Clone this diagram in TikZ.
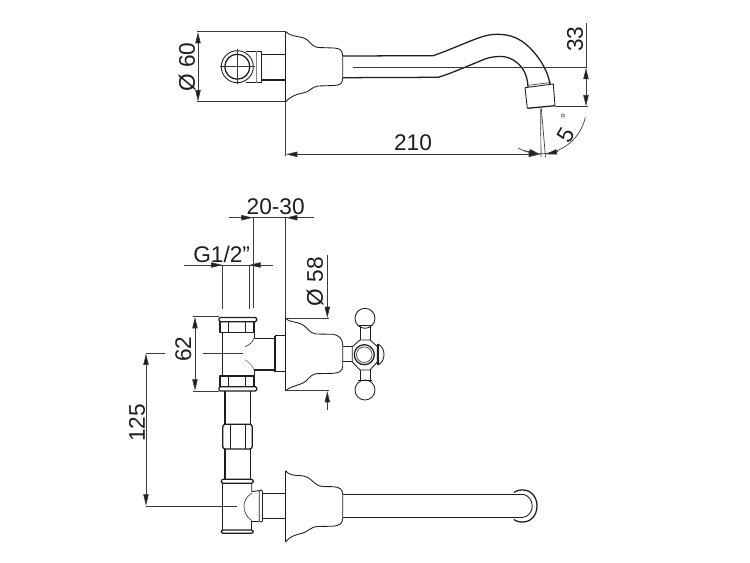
\documentclass[tikz,border=0pt]{standalone}
\usepackage{fontspec}
\setmainfont{Liberation Sans}
\usetikzlibrary{arrows.meta}
\definecolor{ink}{HTML}{1E1E1E}
\definecolor{dimc}{HTML}{3A3A3A}
\definecolor{tealg}{HTML}{6F8F86}
\tikzset{
  thick line/.style={draw=ink,line width=0.95pt,line join=round},
  med line/.style={draw=ink,line width=0.65pt,line join=round},
  thin line/.style={draw=dimc,line width=0.5pt},
  faint line/.style={draw=tealg,line width=0.55pt},
  dim arrow/.style={draw=dimc,line width=0.5pt,-{Triangle[length=8.5pt,width=4pt,fill=ink]}},
  label text/.style={font=\fontsize{17}{18}\selectfont,text=ink,inner sep=0pt},
  small text/.style={font=\fontsize{10}{10}\selectfont,text=dimc,inner sep=0pt}
}
\begin{document}
\begin{tikzpicture}[x=0.75pt,y=-0.75pt]
\useasboundingbox (0,0) rectangle (750,563);
\fill[white] (0,0) rectangle (750,563);

% ---------- top view: wall plate and spout
\draw[thin line] (196.7,31.7) -- (285.7,31.7);
\draw[thin line] (196.7,101.7) -- (285.7,101.7);
\draw[dim arrow] (198,67) -- (198,32);
\draw[dim arrow] (198,67) -- (198,101.5);
\node[label text,rotate=90] (d60) at (187,67) {Ø 60};

\draw[med line] (237.3,66.7) circle[radius=16];
\draw[thick line] (237.3,66.7) circle[radius=12.5];
\draw[thin line] (220,66.7) -- (254.5,66.7) (237.3,49.5) -- (237.3,84);
\draw[med line] (246,51) -- (262,51) (246,82.7) -- (262,82.7);
\draw[faint line] (256,51) -- (256,82.7);
\draw[med line] (261.7,51) -- (261.7,82.7);
\draw[thick line] (262,54.3) -- (285.7,54.3) (262,80) -- (285.7,80);

\draw[med line] (285.7,31.7) -- (285.7,101.7);
\draw[med line] (285.7,31.7) .. controls (290,36) and (296,36) .. (303,37.7)
  .. controls (309,39) and (310,46) .. (318,47.5) -- (334,48)
  .. controls (340,48) and (342.7,51) .. (342.7,56) -- (342.7,78)
  .. controls (342.7,83) and (340,85.5) .. (334,85.5) -- (318,86)
  .. controls (311,87) and (310,92) .. (303,93)
  .. controls (296,94) and (290,97) .. (285.7,101.7);

\draw[thick line] (343,56) -- (433,55.7)
  .. controls (447,51) and (460,45) .. (473,40)
  .. controls (483,36) and (490,34.3) .. (497,34.3)
  .. controls (510,34.3) and (520,38) .. (530,48)
  .. controls (541,59) and (548,72) .. (550,84);
\draw[thick line] (343,77.7) -- (438,77.3)
  .. controls (450,74) and (470,65) .. (485,59)
  .. controls (490,57) and (496,56.5) .. (502,56.5)
  .. controls (512,57) and (520,64) .. (524,71)
  .. controls (526,75) and (528,81) .. (528,87);
\draw[thin line] (527,85.5) -- (551,82.5);
\draw[med line] (525,87.7) -- (553.3,84) -- (555,105.7);
\draw[med line] (525,87.7) -- (527.3,108.3);
\draw[thick line] (527.3,108.3) -- (555,105.7);

\draw[thin line] (352.7,67.3) -- (587,67.3);

% 33
\draw[thin line] (586,23) -- (586,67.3);
\draw[dim arrow] (586,87) -- (586,67.8);
\draw[dim arrow] (586,87) -- (586,106.3);
\draw[thin line] (555,106.7) -- (588,106.7);
\node[label text,rotate=90] (d33) at (575,39) {33};

% 210
\draw[thin line] (285.7,101.7) -- (285.7,156);
\draw[dim arrow] (413,154.3) -- (286,154.3);
\draw[dim arrow] (413,154.3) -- (540,154.3);
\node[label text] (d210) at (413,143) {210};

% 5 degrees
\draw[thin line] (540.6,108.5) -- (541,157) (541.3,108.5) -- (545.5,157);
\draw[thin line] (518,148) arc[start angle=119,end angle=12,radius=46];
\draw[dim arrow] (524,150.5) -- (540.3,154.3);
\draw[dim arrow] (558,151.5) -- (545.7,154.3);
\node[label text,rotate=60] (d5) at (566,135) {5};
\node[small text] (ddeg) at (563,119) {°};

% ---------- dimensions above front view
\draw[thin line] (229,217.7) -- (314,217.7);
\draw[dim arrow] (240,217.7) -- (252.7,217.7);
\draw[dim arrow] (298,217.7) -- (286,217.7);
\node[label text] (d2030) at (275.7,206.5) {20-30};
\draw[thin line] (253,217.7) -- (253,308);
\draw[thin line] (285.7,217.7) -- (285.7,318);

\draw[thin line] (184,265) -- (273,265);
\draw[dim arrow] (212,265) -- (222.4,265);
\draw[dim arrow] (261.7,265) -- (249.3,265);
\node[label text] (dg) at (221.7,254.5) {G1/2"};
\draw[thin line] (222.7,265) -- (222.7,308.5);
\draw[thin line] (249,265) -- (249,308.5);

\draw[thin line] (327.3,255) -- (327.3,300);
\draw[dim arrow] (327.3,300) -- (327.3,318);
\draw[dim arrow] (327.3,410) -- (327.3,391);
\node[label text,rotate=90] (d58) at (315,281.7) {Ø 58};

\draw[thin line] (192.7,316.7) -- (219,316.7);
\draw[thin line] (192.7,391) -- (219,391);
\draw[dim arrow] (195,354) -- (195,317);
\draw[dim arrow] (195,354) -- (195,390.7);
\node[label text,rotate=90] (d62) at (183.3,349.3) {62};

\draw[thin line] (146,353.3) -- (165,353.3);
\draw[thin line] (202.7,353.3) -- (243.3,353.3);
\draw[dim arrow] (146,430) -- (146,353.6);
\draw[dim arrow] (146,430) -- (146,505.7);
\draw[thin line] (146,506) -- (236.7,506);
\node[label text,rotate=90] (d125) at (137,423) {125};

% ---------- upper tee
\draw[thick line,rounded corners=1pt] (219,317.5) rectangle (256.7,321.7);
\draw[thick line] (220,321.7) -- (220,332.7) -- (254,332.7) -- (254,321.7);
\draw[med line] (228,321.7) -- (228,332.7) (245,321.7) -- (245,332.7);
\draw[med line] (222.7,332.7) -- (222.7,376);
\draw[med line] (254,332.7) -- (254,338.3) -- (275,338.3);
\draw[thick line] (254,370) -- (275,370);
\draw[med line] (254,370) -- (254,376);
\draw[med line] (275,335.7) rectangle (285.7,371.7);
\draw[thick line] (275,335.7) -- (275,371.7);
\draw[thin line] (254,338.3) .. controls (252,343) and (249,345) .. (245,346.7);
\draw[faint line] (254,370) .. controls (252,365) and (249,362) .. (245,360);
\draw[thick line] (220,386.7) -- (220,376) -- (254,376) -- (254,386.7);
\draw[med line] (228,376) -- (228,386.7) (245,376) -- (245,386.7);
\draw[thick line,rounded corners=1pt] (219,386.7) rectangle (256.7,391);

% ---------- middle escutcheon and handle
\draw[med line] (285.7,318) -- (285.7,390.7);
\draw[thin line] (285.7,318) -- (329,318) (285.7,390.7) -- (329,390.7);
\draw[med line] (285.7,318) .. controls (288,321) and (290,321) .. (293,321.7)
  .. controls (298,323) and (299,323) .. (303,325)
  .. controls (308,328) and (309,333) .. (316,334) -- (333,334.3)
  .. controls (339,335) and (342.7,339) .. (342.7,345) -- (342.7,366.7)
  .. controls (342.7,371) and (339,373) .. (333,373.3) -- (316,373.7)
  .. controls (309,375) and (308,381) .. (303,383)
  .. controls (299,385) and (296,385) .. (293,386.7)
  .. controls (290,388) and (288,388) .. (285.7,390.7);

\draw[med line] (342.7,346.7) -- (352.3,346.7) (342.7,361) -- (352.3,361);
\draw[med line] (352.3,362) -- (352.3,346.7) -- (360,340) -- (370,340)
  -- (377.3,346.5) -- (377.3,362) -- (370,370) -- (360,370) -- cycle;
\draw[thick line] (364.3,354.7) circle[radius=10];
\draw[thin line] (364.3,354.7) circle[radius=7.8];
\draw[thick line] (378,344) -- (378,365);
\draw[med line] (378,344) .. controls (382,346) and (384,350) .. (384,354.5)
  .. controls (384,359) and (382,363) .. (378,365);
\draw[med line] (365,318.3) circle[radius=10];
\draw[med line] (365,390) circle[radius=10];
\draw[thick line] (358,325.7) -- (372,325.7) (358,380.7) -- (372,380.7);
\draw[med line] (360,326) -- (360,340) (370,326) -- (370,340)
  (360,370) -- (360,381) (370,370) -- (370,381);

% ---------- pipes and lower nut
\draw[thick line] (225,391) -- (225,424);
\draw[med line] (250,391) -- (250,424);
\draw[thick line,rounded corners=2pt] (222.7,424.3) rectangle (252.3,449);
\draw[med line] (230,424.3) -- (230,449) (245,424.3) -- (245,449);
\draw[thick line] (225,449) -- (225,479.3);
\draw[med line] (250,449) -- (250,479.3);

% ---------- lower tee
\draw[thick line,rounded corners=1.5pt] (221.3,479.3) rectangle (253.3,483.3);
\draw[thick line,rounded corners=1.5pt] (221.3,530) rectangle (253.3,533.3);
\draw[med line] (222.7,483.3) -- (222.7,530);
\draw[med line] (251.7,483.3) -- (251.7,491.7) -- (259.3,490.5);
\draw[med line] (251.7,530) -- (251.7,521.7) -- (259.3,521.7);
\draw[med line,rounded corners=1pt] (259.3,490) rectangle (262.5,522);
\draw[thin line] (251.7,493) .. controls (246,497) and (244,502) .. (244,506)
  .. controls (244,511) and (246,517) .. (251.7,520.5);
\draw[thick line] (262.5,493.3) -- (285.7,493.3) (262.5,518.3) -- (285.7,518.3);

% ---------- lower escutcheon and spout
\draw[med line] (285.7,470.7) -- (285.7,541.7);
\draw[med line] (285.7,470.7) .. controls (288,474) and (290,474) .. (293,475)
  .. controls (298,476) and (302,475) .. (306.7,477)
  .. controls (312,479) and (314,485) .. (322,486.5) -- (333,486.7)
  .. controls (339,487) and (342.7,489) .. (342.7,494) -- (342.7,519)
  .. controls (342.7,523) and (339,526) .. (333,526.2) -- (318,526.5)
  .. controls (310,527) and (309,531) .. (303,533)
  .. controls (297,534.5) and (290,536) .. (285.7,541.7);
\draw[thick line] (342.7,494.3) -- (523,494.3);
\draw[thick line] (342.7,517.3) -- (523,517.3);
\draw[thick line] (514,492.5) .. controls (517,490) and (521,490) .. (523,490)
  .. controls (531,490) and (537,497) .. (537,506)
  .. controls (537,515) and (531,522) .. (523,522)
  .. controls (521,522) and (517,522) .. (514,519.5);
\draw[med line] (523,494.3) .. controls (528,495) and (532.3,500) .. (532.3,506)
  .. controls (532.3,512) and (528,517) .. (523,517.3);
\end{tikzpicture}
\end{document}
